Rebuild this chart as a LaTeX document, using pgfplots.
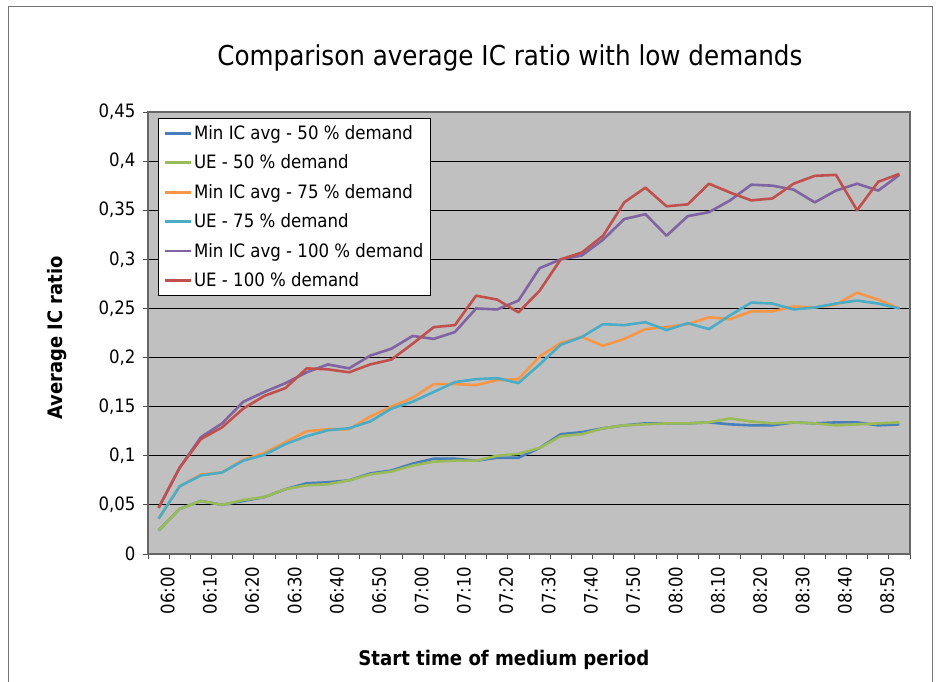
\documentclass[border=0pt]{standalone}
\usepackage{pgfplots}
\pgfplotsset{compat=1.18}
\usepackage{pgfplotstable}
\usepackage{fontspec}
\setmainfont{DejaVu Sans Condensed}
\definecolor{cBlue}{HTML}{4A7EBB}
\definecolor{cGreen}{HTML}{9BBB59}
\definecolor{cOrange}{HTML}{F79646}
\definecolor{cCyan}{HTML}{4BACC6}
\definecolor{cPurple}{HTML}{8064A2}
\definecolor{cRed}{HTML}{C0504D}
\definecolor{bgGray}{HTML}{C0C0C0}

\pgfplotstableread{
i blue green orange cyan purple red
0 0.024 0.024 0.036 0.036 0.047 0.047
1 0.046 0.046 0.069 0.069 0.088 0.088
2 0.054 0.054 0.081 0.080 0.119 0.117
3 0.050 0.050 0.083 0.083 0.133 0.129
4 0.054 0.055 0.096 0.095 0.155 0.148
5 0.058 0.058 0.103 0.101 0.165 0.161
6 0.066 0.066 0.114 0.112 0.174 0.169
7 0.072 0.070 0.125 0.120 0.185 0.189
8 0.073 0.071 0.127 0.126 0.193 0.188
9 0.075 0.075 0.127 0.128 0.189 0.185
10 0.082 0.081 0.140 0.135 0.202 0.193
11 0.085 0.084 0.150 0.148 0.209 0.198
12 0.092 0.090 0.159 0.155 0.222 0.214
13 0.097 0.094 0.173 0.165 0.219 0.231
14 0.097 0.095 0.173 0.175 0.226 0.233
15 0.095 0.095 0.172 0.178 0.250 0.263
16 0.098 0.100 0.177 0.179 0.249 0.259
17 0.098 0.102 0.178 0.174 0.258 0.246
18 0.108 0.108 0.201 0.193 0.291 0.268
19 0.122 0.120 0.215 0.213 0.300 0.300
20 0.124 0.122 0.221 0.221 0.304 0.307
21 0.128 0.128 0.212 0.234 0.320 0.324
22 0.131 0.131 0.219 0.233 0.341 0.358
23 0.133 0.132 0.229 0.236 0.346 0.373
24 0.133 0.133 0.231 0.228 0.324 0.354
25 0.133 0.133 0.234 0.235 0.344 0.356
26 0.134 0.134 0.241 0.229 0.348 0.377
27 0.132 0.138 0.239 0.243 0.360 0.368
28 0.131 0.135 0.247 0.256 0.376 0.360
29 0.131 0.133 0.247 0.255 0.375 0.362
30 0.134 0.134 0.252 0.249 0.371 0.377
31 0.133 0.133 0.251 0.251 0.358 0.385
32 0.134 0.131 0.254 0.255 0.370 0.386
33 0.134 0.132 0.266 0.258 0.377 0.350
34 0.131 0.133 0.259 0.255 0.370 0.379
35 0.132 0.134 0.250 0.250 0.386 0.387
}\data

\begin{document}
\begin{tikzpicture}
\useasboundingbox (0,0) rectangle (938bp,-682bp);
\draw[black!55, line width=1bp] (8bp,-700bp) -- (8bp,-6bp) -- (932bp,-6bp) -- (932bp,-700bp);
\node[font=\fontsize{27.5}{33}\selectfont] at (510bp,-58bp) {Comparison average IC ratio with low demands};
\begin{axis}[
  at={(148bp,-554bp)}, anchor=south west,
  scale only axis, width=762bp, height=442bp,
  xmin=-0.5, xmax=35.5, ymin=0, ymax=0.45,
  axis background/.style={fill=bgGray},
  axis line style={draw=black!60, line width=1.5bp},
  tick align=outside,
  xtick pos=bottom, ytick pos=left,
  xtick={0,2,...,34},
  xticklabels={06:00,06:10,06:20,06:30,06:40,06:50,07:00,07:10,07:20,07:30,07:40,07:50,08:00,08:10,08:20,08:30,08:40,08:50},
  minor xtick={-0.5,0.5,...,35.5},
  major x tick style={draw=none},
  minor x tick style={black!70, line width=1bp},
  major y tick style={black!70, line width=1bp},
  major tick length=5bp, minor tick length=5bp,
  ytick={0,0.05,...,0.451},
  yticklabels={0,{0,05},{0,1},{0,15},{0,2},{0,25},{0,3},{0,35},{0,4},{0,45}},
  ymajorgrids,
  grid style={black, line width=1.1bp},
  tick label style={font=\fontsize{18.5}{22}\selectfont},
  yticklabel style={xshift=-4bp},
  xticklabel style={xshift=9bp, yshift=-4bp, rotate=90, anchor=east},
  xlabel={Start time of medium period},
  ylabel={Average IC ratio},
  xlabel style={font=\fontsize{20.2}{24}\selectfont\bfseries, at={(axis description cs:0.467,-0.24)}, anchor=center},
  ylabel style={font=\fontsize{20}{24}\selectfont\bfseries, at={(axis description cs:-0.1194,0.4887)}, anchor=center, rotate=0},
  legend style={at={(axis description cs:0.0131,0.9864)}, anchor=north west,
    draw=black, line width=1bp, fill=white,
    font=\fontsize{18.5}{22}\selectfont, row sep=10bp, inner xsep=5bp, inner ysep=5bp},
  legend cell align=left,
  legend image code/.code={\draw[#1, line width=2.6bp] (0bp,0bp) -- (26bp,0bp);},
  every axis plot/.append style={line width=2.6bp, line join=round},
]
\addplot[cBlue] table[x=i,y=blue]{\data};
\addlegendentry{Min IC avg - 50 \% demand}
\addplot[cGreen] table[x=i,y=green]{\data};
\addlegendentry{UE - 50 \% demand}
\addplot[cOrange] table[x=i,y=orange]{\data};
\addlegendentry{Min IC avg - 75 \% demand}
\addplot[cCyan] table[x=i,y=cyan]{\data};
\addlegendentry{UE - 75 \% demand}
\addplot[cPurple] table[x=i,y=purple]{\data};
\addlegendentry{Min IC avg - 100 \% demand}
\addplot[cRed] table[x=i,y=red]{\data};
\addlegendentry{UE - 100 \% demand}
\end{axis}
\end{tikzpicture}
\end{document}
